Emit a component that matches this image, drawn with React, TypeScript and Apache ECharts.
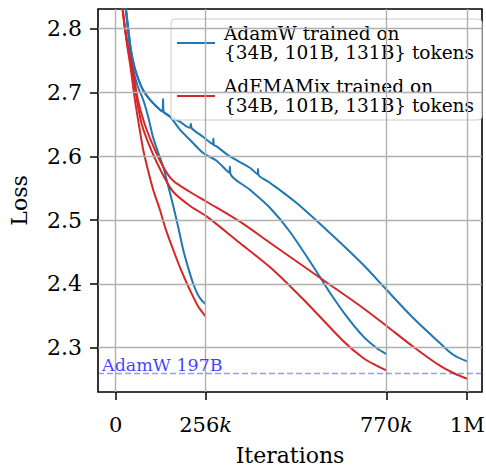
import React, { useEffect, useRef } from "react";
import * as echarts from "echarts";

// x in thousands of iterations, y = loss
const adamw256k: [number, number][] = [
  [24, 2.86], [29.3, 2.8313], [37.8, 2.7828], [49.2, 2.7389], [63.4, 2.7091], [78.5, 2.6887],
  [91.9, 2.6636], [106.9, 2.6292], [120.3, 2.6072], [135.4, 2.5837], [148.8, 2.5555],
  [163.8, 2.5226], [177.2, 2.4912], [192.3, 2.4536], [205.6, 2.427], [220.7, 2.4003],
  [234.1, 2.3831], [245.5, 2.3737], [256, 2.3685],
];
const adamw770k: [number, number][] = [
  [24, 2.86], [29.3, 2.8313], [36.4, 2.7984], [43.5, 2.7671], [52, 2.7436], [63.4, 2.7232],
  [77.6, 2.7044], [97.6, 2.6887], [126, 2.673], [154.4, 2.6625], [182.9, 2.6417],
  [211.3, 2.626], [249.1, 2.6052], [287.3, 2.5931], [323.5, 2.5745], [325.1, 2.584], [326.7, 2.5722],
  [382, 2.5476], [438.9, 2.5194], [495.7, 2.4818], [571.7, 2.4191], [609.6, 2.3862],
  [657, 2.3491], [704.2, 2.3177], [742.3, 2.2995], [770, 2.2901],
];
const adamw1M: [number, number][] = [
  [24, 2.86], [29.3, 2.8313], [36.4, 2.7984], [43.5, 2.7671], [52, 2.7436], [63.4, 2.7232],
  [77.6, 2.7044], [97.6, 2.6887], [126, 2.673], [133.5, 2.671], [135, 2.69], [136.5, 2.67],
  [154.4, 2.6625], [182.9, 2.6542], [211.3, 2.6448], [214, 2.651], [216.5, 2.644],
  [248.3, 2.6307], [276.5, 2.619], [278, 2.628], [279.5, 2.618], [287.3, 2.6155], [325.1, 2.5998],
  [382, 2.5821], [403.5, 2.572], [405, 2.58], [406.5, 2.571], [438.9, 2.5586], [514.8, 2.5268],
  [609.6, 2.4798], [704.2, 2.4301], [765.9, 2.3936], [846.4, 2.3466], [922.3, 2.3074],
  [960.2, 2.289], [1000, 2.2785],
];
const ademamix256k: [number, number][] = [
  [15, 2.87], [19.9, 2.8313], [30.7, 2.7828], [43.5, 2.7357], [54.9, 2.6887], [66.3, 2.6495],
  [78.5, 2.6103], [91.9, 2.579], [106.9, 2.5476], [126, 2.5163], [143, 2.485], [163.8, 2.4536],
  [185.7, 2.4223], [211, 2.3909], [234.9, 2.3647], [256, 2.3491],
];
const ademamix770k: [number, number][] = [
  [15, 2.87], [19.9, 2.8313], [32.1, 2.7796], [47.8, 2.7326], [60.6, 2.6887], [74.8, 2.6495],
  [103.2, 2.6072], [134.5, 2.5712], [163.8, 2.5445], [211, 2.5226], [258.8, 2.5058],
  [353.5, 2.4641], [447.4, 2.4223], [543.2, 2.3705], [646.5, 2.311], [704.2, 2.2839],
  [742.3, 2.2718], [770, 2.2644],
];
const ademamix1M: [number, number][] = [
  [15, 2.87], [19.9, 2.8313], [32.1, 2.7828], [49.2, 2.7357], [63.4, 2.6887], [83.3, 2.6495],
  [111.8, 2.6103], [140.2, 2.579], [163.8, 2.5618], [211, 2.5445], [258.8, 2.5288],
  [353.5, 2.4975], [438.8, 2.4646], [524.2, 2.4317], [609.6, 2.3987], [694.9, 2.3658],
  [767.9, 2.3353], [846.4, 2.3016], [922.3, 2.2718], [965, 2.2592], [1000, 2.2514],
];

const xTicks = [0, 256, 770, 1000];
const yTicks = [2.3, 2.4, 2.5, 2.6, 2.7, 2.8];
const baselineLoss = 2.263;
const baselineLabel = "AdamW 197B";
const adamwName = "AdamW trained on\n{34B, 101B, 131B} tokens";
const ademamixName = "AdEMAMix trained on\n{34B, 101B, 131B} tokens";

const BLUE = "#1f77b4";
const RED = "#d62728";
const FONT = "DejaVu Serif";

export default function App() {
  const ref = useRef<HTMLDivElement>(null);
  useEffect(() => {
    if (!ref.current) return;
    const chart = echarts.init(ref.current, null, { renderer: "svg" });
    const lineSeries = (name: string, data: [number, number][], color: string) => ({
      type: "line",
      name,
      data,
      showSymbol: false,
      symbol: "none",
      smooth: 0.3,
      color,
      itemStyle: { color },
      lineStyle: { color, width: 2 },
      z: 3,
      clip: true,
    });
    chart.setOption({
      animation: false,
      textStyle: { fontFamily: FONT },
      grid: {
        left: 98,
        right: 4,
        top: 9,
        bottom: 76,
        outerBoundsMode: "none",
        containLabel: false,
        show: true,
        borderColor: "#000",
        borderWidth: 1.6,
        backgroundColor: "transparent",
      },
      legend: {
        left: 171,
        top: 19,
        orient: "vertical",
        icon: "rect",
        itemWidth: 38,
        itemHeight: 2,
        itemGap: 15,
        padding: [5, 8, 5, 6],
        backgroundColor: "rgba(255,255,255,0.8)",
        borderColor: "#cccccc",
        borderWidth: 1,
        borderRadius: 4,
        selectedMode: false,
        textStyle: { fontFamily: FONT, fontSize: 18.5, lineHeight: 19, color: "#000", padding: [0, 0, 0, 4] },
        data: [adamwName, ademamixName],
      },
      xAxis: {
        type: "value",
        min: -50,
        max: 1042,
        name: "Iterations",
        nameLocation: "middle",
        nameGap: 52,
        nameTextStyle: { fontFamily: FONT, fontSize: 22, color: "#000" },
        axisLine: { show: false },
        splitLine: { show: false },
        axisTick: { show: true, customValues: xTicks, length: 8, lineStyle: { color: "#000", width: 1.5 } },
        axisLabel: {
          customValues: xTicks,
          margin: 22,
          fontSize: 21,
          color: "#000",
          fontFamily: FONT,
          formatter: (v: number) => (v === 0 ? "0" : v === 1000 ? "1M" : `{n|${v}}{i|k}`),
          rich: {
            n: { fontFamily: FONT, fontSize: 21, color: "#000" },
            i: { fontFamily: FONT, fontSize: 21, color: "#000", fontStyle: "italic" },
          },
        },
      },
      yAxis: {
        type: "value",
        min: 2.2306,
        max: 2.8309,
        name: "Loss",
        nameLocation: "middle",
        nameGap: 68,
        nameTextStyle: { fontFamily: FONT, fontSize: 22, color: "#000" },
        axisLine: { show: false, onZero: false },
        splitLine: { show: false },
        axisTick: { show: true, customValues: yTicks, length: 8, lineStyle: { color: "#000", width: 1.5 } },
        axisLabel: {
          customValues: yTicks,
          margin: 16,
          fontSize: 22,
          color: "#000",
          fontFamily: FONT,
          formatter: (v: number) => v.toFixed(1),
        },
      },
      series: [
        {
          type: "line",
          name: "grid",
          data: [],
          z: 1,
          silent: true,
          markLine: {
            silent: true,
            symbol: "none",
            animation: false,
            label: { show: false },
            lineStyle: { color: "#b0b0b0", width: 1.4, type: "solid" },
            data: [
              ...xTicks.map((v) => ({ xAxis: v })),
              ...yTicks.map((v) => ({ yAxis: v })),
            ],
          },
        },
        lineSeries(adamwName, adamw256k, BLUE),
        lineSeries(adamwName, adamw770k, BLUE),
        lineSeries(adamwName, adamw1M, BLUE),
        lineSeries(ademamixName, ademamix256k, RED),
        lineSeries(ademamixName, ademamix770k, RED),
        lineSeries(ademamixName, ademamix1M, RED),
        {
          type: "line",
          name: "baseline",
          data: [],
          z: 4,
          silent: true,
          markLine: {
            silent: true,
            symbol: "none",
            animation: false,
            lineStyle: { color: "rgba(70,70,255,0.55)", width: 1.3, type: [6, 3] },
            label: {
              show: true,
              position: "insideStartTop",
              formatter: baselineLabel,
              color: "rgba(30,30,255,0.85)",
              fontFamily: FONT,
              fontSize: 17.5,
              distance: [4, -1],
            },
            data: [{ yAxis: baselineLoss }],
          },
        },
      ],
    });
    return () => chart.dispose();
  }, []);
  return (
    <div
      ref={ref}
      style={{ position: "absolute", left: 0, top: 0, width: 486, height: 468 }}
    />
  );
}
